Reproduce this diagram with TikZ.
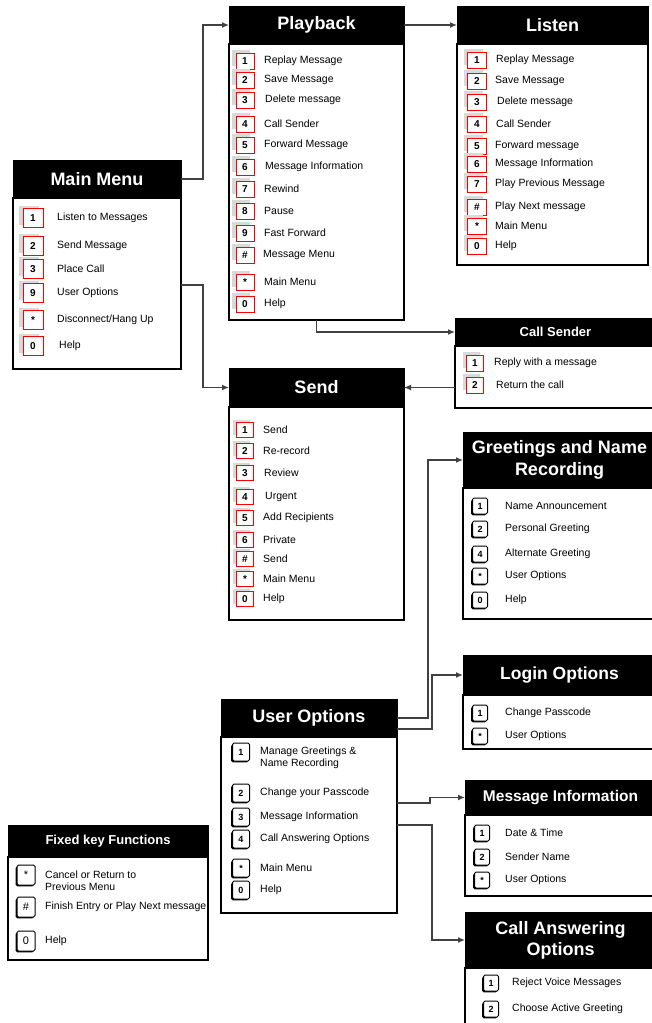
\documentclass[tikz,border=0pt]{standalone}
\usepackage{fontspec}
\setmainfont{Liberation Sans}
\usetikzlibrary{arrows.meta,calc}
\tikzset{
 titlebox/.style={fill=black, draw=black, line width=1pt, text=white, inner sep=0pt, outer sep=0pt, align=center},
 bodybox/.style={fill=white, draw=black, line width=1.4pt, inner sep=0pt, outer sep=0pt},
 redkey/.style={draw=red, fill=white, line width=1pt, inner sep=0pt, font=\bfseries\fontsize{10}{10}\selectfont},
 greyshade/.style={fill=gray!30, draw=none},
 blackkey/.style={draw=black, fill=white, rounded corners=1.5pt, line width=1pt, inner sep=0pt, minimum width=15pt, minimum height=16pt, font=\bfseries\fontsize{9}{9}\selectfont},
 blackshade/.style={fill=black, draw=none, rounded corners=1.5pt},
 itemtext/.style={anchor=west, inner sep=0pt, align=left, font=\fontsize{10.5}{12}\selectfont},
 conn/.style={draw=black!75, line width=1.5pt, -{Latex[length=7pt,width=6pt]}},
 mmk/.style={redkey, minimum width=20pt, minimum height=19pt},
 pbk/.style={redkey, minimum width=18pt, minimum height=16pt},
 lsk/.style={redkey, minimum width=19pt, minimum height=16pt},
 csk/.style={redkey, minimum width=17pt, minimum height=16pt},
 sdk/.style={redkey, minimum width=17pt, minimum height=15pt},
 bk/.style={blackkey},
 uok/.style={blackkey, minimum width=17pt, minimum height=18pt},
 fkk/.style={blackkey, minimum width=18pt, minimum height=20pt, font=\fontsize{11}{11}\selectfont},
}
\newcommand{\mkmenu}[8]{%
 \node[bodybox, minimum width={(#4-#2)*1pt}, minimum height={(#6-#5)*1pt}] (#1b) at ({(#2+#4)/2},{(#5+#6)/2}) {};
 \node[titlebox, minimum width={(#4-#2)*1pt}, minimum height={(#5-#3)*1pt}, font={#7}] (#1t) at ({(#2+#4)/2},{(#3+#5)/2}) {#8};
}
% red-bordered key with a grey shade up-left
\newcommand{\keyrow}[7]{%
 \path[greyshade] ({#3-#3+#3-4-0.5*\csname kw#2\endcsname},{#4-3-0.5*\csname kh#2\endcsname}) rectangle ++(\csname kw#2\endcsname,\csname kh#2\endcsname);
 \node[#2] (#1) at (#3,#4) {#5};
 \node[itemtext] (#1t) at (#6,#4) {#7};
}
% black-bordered key with a black shade down-left
\newcommand{\bkeyrow}[7]{%
 \path[blackshade] ({#3-1.3-0.5*\csname kw#2\endcsname},{#4+1.3-0.5*\csname kh#2\endcsname}) rectangle ++(\csname kw#2\endcsname,\csname kh#2\endcsname);
 \node[#2] (#1) at (#3,#4) {#5};
 \node[itemtext] (#1t) at (#6,#4) {#7};
}
\def\kwmmk{20}\def\khmmk{19}
\def\kwpbk{18}\def\khpbk{16}
\def\kwlsk{19}\def\khlsk{16}
\def\kwcsk{17}\def\khcsk{16}
\def\kwsdk{17}\def\khsdk{15}
\def\kwbk{15}\def\khbk{16}
\def\kwuok{17}\def\khuok{18}
\def\kwfkk{18}\def\khfkk{20}
\newcommand{\bigtitle}{\fontsize{18}{21}\selectfont\bfseries}
\begin{document}
\begin{tikzpicture}[x=1pt, y=-1pt]
\useasboundingbox (0,0) rectangle (652,1023);
\clip (0,0) rectangle (652,1023);
\fill[white] (0,0) rectangle (652,1023);

% Main Menu
\mkmenu{mm}{13}{160}{181}{198}{369}{\bigtitle}{Main Menu}
\keyrow{mm1}{mmk}{33}{218}{1}{57}{Listen to Messages}
\keyrow{mm2}{mmk}{33}{246}{2}{57}{Send Message}
\keyrow{mm3}{mmk}{33}{269}{3}{57}{Place Call}
\keyrow{mm9}{mmk}{33}{293}{9}{57}{User Options}
\keyrow{mmS}{mmk}{33}{320}{*}{57}{Disconnect/Hang Up}
\keyrow{mm0}{mmk}{33}{346}{0}{59}{Help}

% Playback
\mkmenu{pb}{229}{6}{404}{44}{320}{\bigtitle}{Playback}
\keyrow{pb1}{pbk}{245}{61}{1}{264}{Replay Message}
\keyrow{pb2}{pbk}{245}{80}{2}{264}{Save Message}
\keyrow{pb3}{pbk}{245}{100}{3}{265}{Delete message}
\keyrow{pb4}{pbk}{245}{124}{4}{264}{Call Sender}
\keyrow{pb5}{pbk}{245}{145}{5}{264}{Forward Message}
\keyrow{pb6}{pbk}{245}{167}{6}{265}{Message Information}
\keyrow{pb7}{pbk}{245}{189}{7}{264}{Rewind}
\keyrow{pb8}{pbk}{245}{211}{8}{264}{Pause}
\keyrow{pb9}{pbk}{245}{233}{9}{264}{Fast Forward}
\keyrow{pbH}{pbk}{245}{255}{\#}{263}{Message Menu}
\keyrow{pbS}{pbk}{245}{282}{*}{264}{Main Menu}
\keyrow{pb0}{pbk}{245}{304}{0}{264}{Help}

% Listen
\mkmenu{ls}{457}{6}{648}{44}{265}{\bigtitle}{Listen}
\keyrow{ls1}{lsk}{477}{60}{1}{496}{Replay Message}
\keyrow{ls2}{lsk}{477}{81}{2}{495}{Save Message}
\keyrow{ls3}{lsk}{477}{102}{3}{497}{Delete message}
\keyrow{ls4}{lsk}{477}{124}{4}{496}{Call Sender}
\keyrow{ls5}{lsk}{477}{146}{5}{495}{Forward message}
\keyrow{ls6}{lsk}{477}{164}{6}{495}{Message Information}
\keyrow{ls7}{lsk}{477}{184}{7}{495}{Play Previous Message}
\keyrow{lsH}{lsk}{477}{207}{\#}{495}{Play Next message}
\keyrow{lsS}{lsk}{477}{226}{*}{495}{Main Menu}
\keyrow{ls0}{lsk}{477}{246}{0}{495}{Help}

% Call Sender
\mkmenu{cs}{455}{318}{656}{346}{408}{\fontsize{13}{15}\selectfont\bfseries}{Call Sender}
\keyrow{cs1}{csk}{475}{363}{1}{494}{Reply with a message}
\keyrow{cs2}{csk}{475}{385}{2}{496}{Return the call}

% Send
\mkmenu{sd}{229}{368}{404}{407}{620}{\bigtitle}{Send}
\keyrow{sd1}{sdk}{245}{430}{1}{263}{Send}
\keyrow{sd2}{sdk}{245}{451}{2}{263}{Re-record}
\keyrow{sd3}{sdk}{245}{473}{3}{264}{Review}
\keyrow{sd4}{sdk}{245}{497}{4}{265}{Urgent}
\keyrow{sd5}{sdk}{245}{518}{5}{263}{Add Recipients}
\keyrow{sd6}{sdk}{245}{540}{6}{263}{Private}
\keyrow{sdH}{sdk}{245}{559}{\#}{263}{Send}
\keyrow{sdS}{sdk}{245}{579}{*}{263}{Main Menu}
\keyrow{sd0}{sdk}{245}{599}{0}{263}{Help}

% Greetings and Name Recording
\mkmenu{gr}{463}{432}{656}{488}{619}{\fontsize{18}{22}\selectfont\bfseries}{Greetings and Name\\Recording}
\bkeyrow{gr1}{bk}{480}{506}{1}{505}{Name Announcement}
\bkeyrow{gr2}{bk}{480}{529}{2}{505}{Personal Greeting}
\bkeyrow{gr4}{bk}{480}{554}{4}{505}{Alternate Greeting}
\bkeyrow{grS}{bk}{480}{576}{*}{505}{User Options}
\bkeyrow{gr0}{bk}{480}{600}{0}{505}{Help}

% Login Options
\mkmenu{lg}{463}{655}{656}{695}{749}{\fontsize{17.5}{20}\selectfont\bfseries}{Login Options}
\bkeyrow{lg1}{bk}{480}{713}{1}{505}{Change Passcode}
\bkeyrow{lgS}{bk}{480}{736}{*}{505}{User Options}

% User Options
\mkmenu{uo}{221}{699}{397}{737}{913}{\bigtitle}{User Options}
\bkeyrow{uo1}{uok}{241}{752}{1}{260}{}
\node[itemtext] (uo1x) at (260,758) {Manage Greetings \&\\Name Recording};
\bkeyrow{uo2}{uok}{241}{793}{2}{260}{Change your Passcode}
\bkeyrow{uo3}{uok}{241}{817}{3}{260}{Message Information}
\bkeyrow{uo4}{uok}{241}{839}{4}{260}{Call Answering Options}
\bkeyrow{uoS}{uok}{241}{868}{*}{260}{Main Menu}
\bkeyrow{uo0}{uok}{241}{890}{0}{260}{Help}

% Message Information
\mkmenu{mi}{465}{780}{656}{815}{896}{\fontsize{15.5}{18}\selectfont\bfseries}{Message Information}
\bkeyrow{mi1}{bk}{482}{833}{1}{505}{Date \& Time}
\bkeyrow{mi2}{bk}{482}{857}{2}{505}{Sender Name}
\bkeyrow{miS}{bk}{482}{880}{*}{505}{User Options}

% Call Answering Options
\mkmenu{ca}{465}{912}{656}{968}{1030}{\fontsize{18}{21}\selectfont\bfseries}{Call Answering\\Options}
\bkeyrow{ca1}{bk}{491}{983}{1}{512}{Reject Voice Messages}
\bkeyrow{ca2}{bk}{491}{1009}{2}{512}{Choose Active Greeting}

% Fixed key Functions
\mkmenu{fk}{8}{825}{208}{857}{960}{\fontsize{13}{15}\selectfont\bfseries}{Fixed key Functions}
\bkeyrow{fkS}{fkk}{26}{875}{*}{45}{}
\node[itemtext] (fkSx) at (45,881) {Cancel or Return to\\Previous Menu};
\bkeyrow{fkH}{fkk}{26}{907}{\#}{45}{Finish Entry or Play Next message}
\bkeyrow{fk0}{fkk}{26}{941}{0}{45}{Help}

% connectors
\draw[conn] (mmt.east) -- ++(22,0) |- (pbt.west);
\draw[conn] ($(mmb.east |- mm9)+(0,-8)$) -- ++(22,0) |- (sdt.west);
\draw[conn] (pbt.east) -- (lst.west);
\draw[conn] (pbb.south) |- (cst.west);
\draw[conn] (sdt.east -| csb.west) -- (sdt.east);
\draw[conn] (uot.east) -- ++(31,0) |- (grt.west);
\draw[conn] ($(uot.south east)+(0,-8)$) -- ++(35,0) |- (lgt.west);
\draw[conn] ($(uob.east |- uo2)+(0,10)$) -- ++(33,0) |- (mit.west);
\draw[conn] ($(uob.east |- uo3)+(0,8)$) -- ++(35,0) |- (cat.west);
\end{tikzpicture}
\end{document}
